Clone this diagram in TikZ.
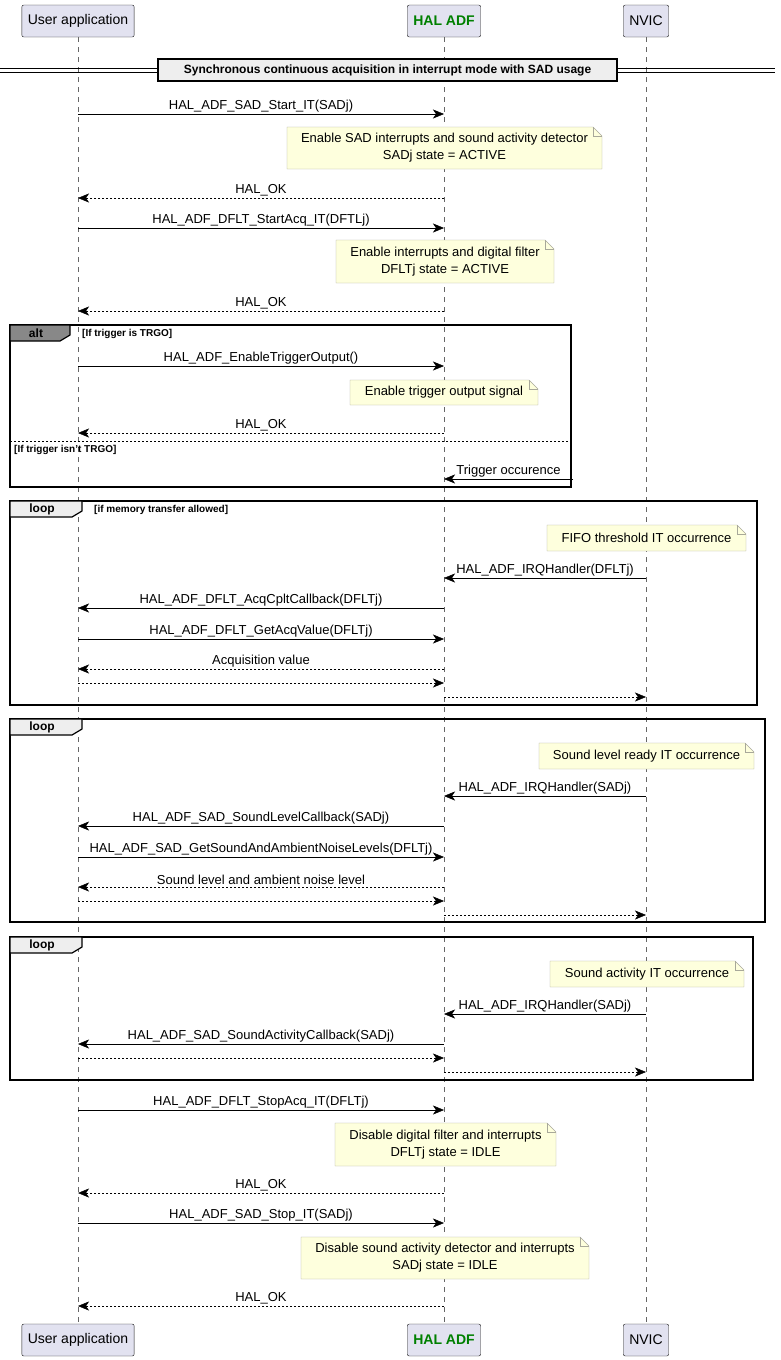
\documentclass[tikz,border=0pt]{standalone}
\usepackage{fontspec}
\setmainfont{Liberation Sans}
\usetikzlibrary{arrows.meta,calc}

\definecolor{partfill}{HTML}{E2E2F0}
\definecolor{notefill}{HTML}{FEFFDD}
\definecolor{notedraw}{HTML}{A8A89A}
\definecolor{altfill}{HTML}{888888}
\definecolor{loopfill}{HTML}{EEEEEE}
\definecolor{adfgreen}{HTML}{008000}

% message between two lifelines: name, y, x from, x to, label
\newcommand\sendmsg[6][msg]{%
  \coordinate (#2s) at (#4,#3);
  \coordinate (#2e) at (#5,#3);
  \draw[#1] (#2s) -- node[lbl] {#6} (#2e);}
% note with folded corner: name, x left, x right, y top, y bottom, text
\newcommand\notebox[6]{%
  \coordinate (#1a) at (#2,#4);
  \coordinate (#1b) at (#3,#5);
  \draw[notestyle] (#2,#4) -- (#3-9,#4) -- (#3,#4+9) -- (#3,#5) -- (#2,#5) -- cycle;
  \draw[notedraw] (#3-9,#4) -- (#3-9,#4+9) -- (#3,#4+9);
  \node[notetext] (#1) at ($(#1a)!0.5!(#1b)$) {#6};}
% combined fragment: name, x left, x right, y top, y bottom, tab width, fill, keyword, guard
\newcommand\fragment[9]{%
  \draw[line width=1.5pt] (#2,#4) rectangle (#3,#5);
  \draw[line width=1.2pt,fill=#7] (#2,#4) -- (#2+#6,#4) -- (#2+#6,#4+10) -- (#2+#6-10,#4+16) -- (#2,#4+16) -- cycle;
  \node[font=\fontsize{12}{14}\selectfont\bfseries,anchor=center] (#1) at (#2+#6/2-4,#4+8) {#8};
  \node[guard,anchor=west] (#1g) at (#2+#6+12,#4+9) {#9};}

\begin{document}
\begin{tikzpicture}[x=1pt,y=-1pt,
    participant/.style={draw=black!90,fill=partfill,rounded corners=2pt,minimum height=32pt,inner xsep=6pt,font=\fontsize{14}{16}\selectfont},
    lifeline/.style={draw=black!60,dash pattern=on 5pt off 5pt,thin},
    msg/.style={-{Stealth[length=11pt,width=9pt,inset=3pt]},thin},
    ret/.style={msg,dash pattern=on 2pt off 2pt},
    lbl/.style={above=1pt,font=\fontsize{13}{15}\selectfont,inner sep=1pt},
    notestyle/.style={draw=notedraw,fill=notefill},
    notetext/.style={align=center,font=\fontsize{13}{17}\selectfont},
    guard/.style={font=\fontsize{10}{12}\selectfont\bfseries,inner sep=0pt}]
  \useasboundingbox (0,0) rectangle (781,1360);

  % participants
  \foreach \nm/\x/\txt in {user/78/{User application},adf/444/{\textcolor{adfgreen}{\bfseries HAL ADF}},nvic/646/NVIC}{
    \node[participant] (\nm top) at (\x,21) {\txt};
    \node[participant] (\nm bot) at (\x,1340) {\txt};
    \draw[lifeline] (\nm top.south) -- (\nm bot.north);
  }

  % divider
  \draw (0,68) -- (775,68) (0,72) -- (775,72);
  \node[draw,line width=1.2pt,fill=loopfill,minimum width=459pt,minimum height=22pt,font=\fontsize{12}{14}\selectfont\bfseries] (sync) at (387.5,70) {Synchronous continuous acquisition in interrupt mode with SAD usage};

  \sendmsg{m1}{114}{78}{444}{HAL\_ADF\_SAD\_Start\_IT(SADj)}
  \notebox{n1}{287}{602}{127}{169}{Enable SAD interrupts and sound activity detector\\SADj state = ACTIVE}
  \sendmsg[ret]{m2}{198}{444}{78}{HAL\_OK}
  \sendmsg{m3}{228}{78}{444}{HAL\_ADF\_DFLT\_StartAcq\_IT(DFTLj)}
  \notebox{n2}{336}{554}{240}{283}{Enable interrupts and digital filter\\DFLTj state = ACTIVE}
  \sendmsg[ret]{m4}{311}{444}{78}{HAL\_OK}

  % alt
  \fragment{alt}{10}{571}{325}{487}{60}{altfill}{alt}{[If trigger is TRGO]}
  \sendmsg{m5}{366}{78}{444}{HAL\_ADF\_EnableTriggerOutput()}
  \notebox{n3}{350}{538}{380}{405}{Enable trigger output signal}
  \sendmsg[ret]{m6}{433}{444}{78}{HAL\_OK}
  \draw[dash pattern=on 2pt off 2pt] (10,441) -- (571,441);
  \node[guard,anchor=west] (altg2) at (14,450) {[If trigger isn't TRGO]};
  \sendmsg{m7}{479}{573}{444}{Trigger occurence}

  % loop 1
  \fragment{loopa}{10}{757}{501}{705}{72}{loopfill}{loop}{[if memory transfer allowed]}
  \notebox{n4}{547}{746}{525}{551}{FIFO threshold IT occurrence}
  \sendmsg{m8}{578}{646}{444}{HAL\_ADF\_IRQHandler(DFLTj)}
  \sendmsg{m9}{608}{444}{78}{HAL\_ADF\_DFLT\_AcqCpltCallback(DFLTj)}
  \sendmsg{m10}{639}{78}{444}{HAL\_ADF\_DFLT\_GetAcqValue(DFLTj)}
  \sendmsg[ret]{m11}{669}{444}{78}{Acquisition value}
  \sendmsg[ret]{m12}{683}{78}{444}{}
  \sendmsg[ret]{m13}{697}{444}{646}{}

  % loop 2
  \fragment{loopb}{10}{765}{719}{922}{72}{loopfill}{loop}{}
  \notebox{n5}{539}{754}{743}{769}{Sound level ready IT occurrence}
  \sendmsg{m14}{796}{646}{444}{HAL\_ADF\_IRQHandler(SADj)}
  \sendmsg{m15}{826}{444}{78}{HAL\_ADF\_SAD\_SoundLevelCallback(SADj)}
  \sendmsg{m16}{857}{78}{444}{HAL\_ADF\_SAD\_GetSoundAndAmbientNoiseLevels(DFLTj)}
  \sendmsg[ret]{m17}{887}{444}{78}{Sound level and ambient noise level}
  \sendmsg[ret]{m18}{901}{78}{444}{}
  \sendmsg[ret]{m19}{915}{444}{646}{}

  % loop 3
  \fragment{loopc}{10}{753}{937}{1080}{72}{loopfill}{loop}{}
  \notebox{n6}{550}{744}{961}{987}{Sound activity IT occurrence}
  \sendmsg{m20}{1014}{646}{444}{HAL\_ADF\_IRQHandler(SADj)}
  \sendmsg{m21}{1044}{444}{78}{HAL\_ADF\_SAD\_SoundActivityCallback(SADj)}
  \sendmsg[ret]{m22}{1058}{78}{444}{}
  \sendmsg[ret]{m23}{1072}{444}{646}{}

  \sendmsg{m24}{1110}{78}{444}{HAL\_ADF\_DFLT\_StopAcq\_IT(DFLTj)}
  \notebox{n7}{335}{556}{1123}{1166}{Disable digital filter and interrupts\\DFLTj state = IDLE}
  \sendmsg[ret]{m25}{1193}{444}{78}{HAL\_OK}
  \sendmsg{m26}{1223}{78}{444}{HAL\_ADF\_SAD\_Stop\_IT(SADj)}
  \notebox{n8}{301}{589}{1237}{1279}{Disable sound activity detector and interrupts\\SADj state = IDLE}
  \sendmsg[ret]{m27}{1306}{444}{78}{HAL\_OK}
\end{tikzpicture}
\end{document}
